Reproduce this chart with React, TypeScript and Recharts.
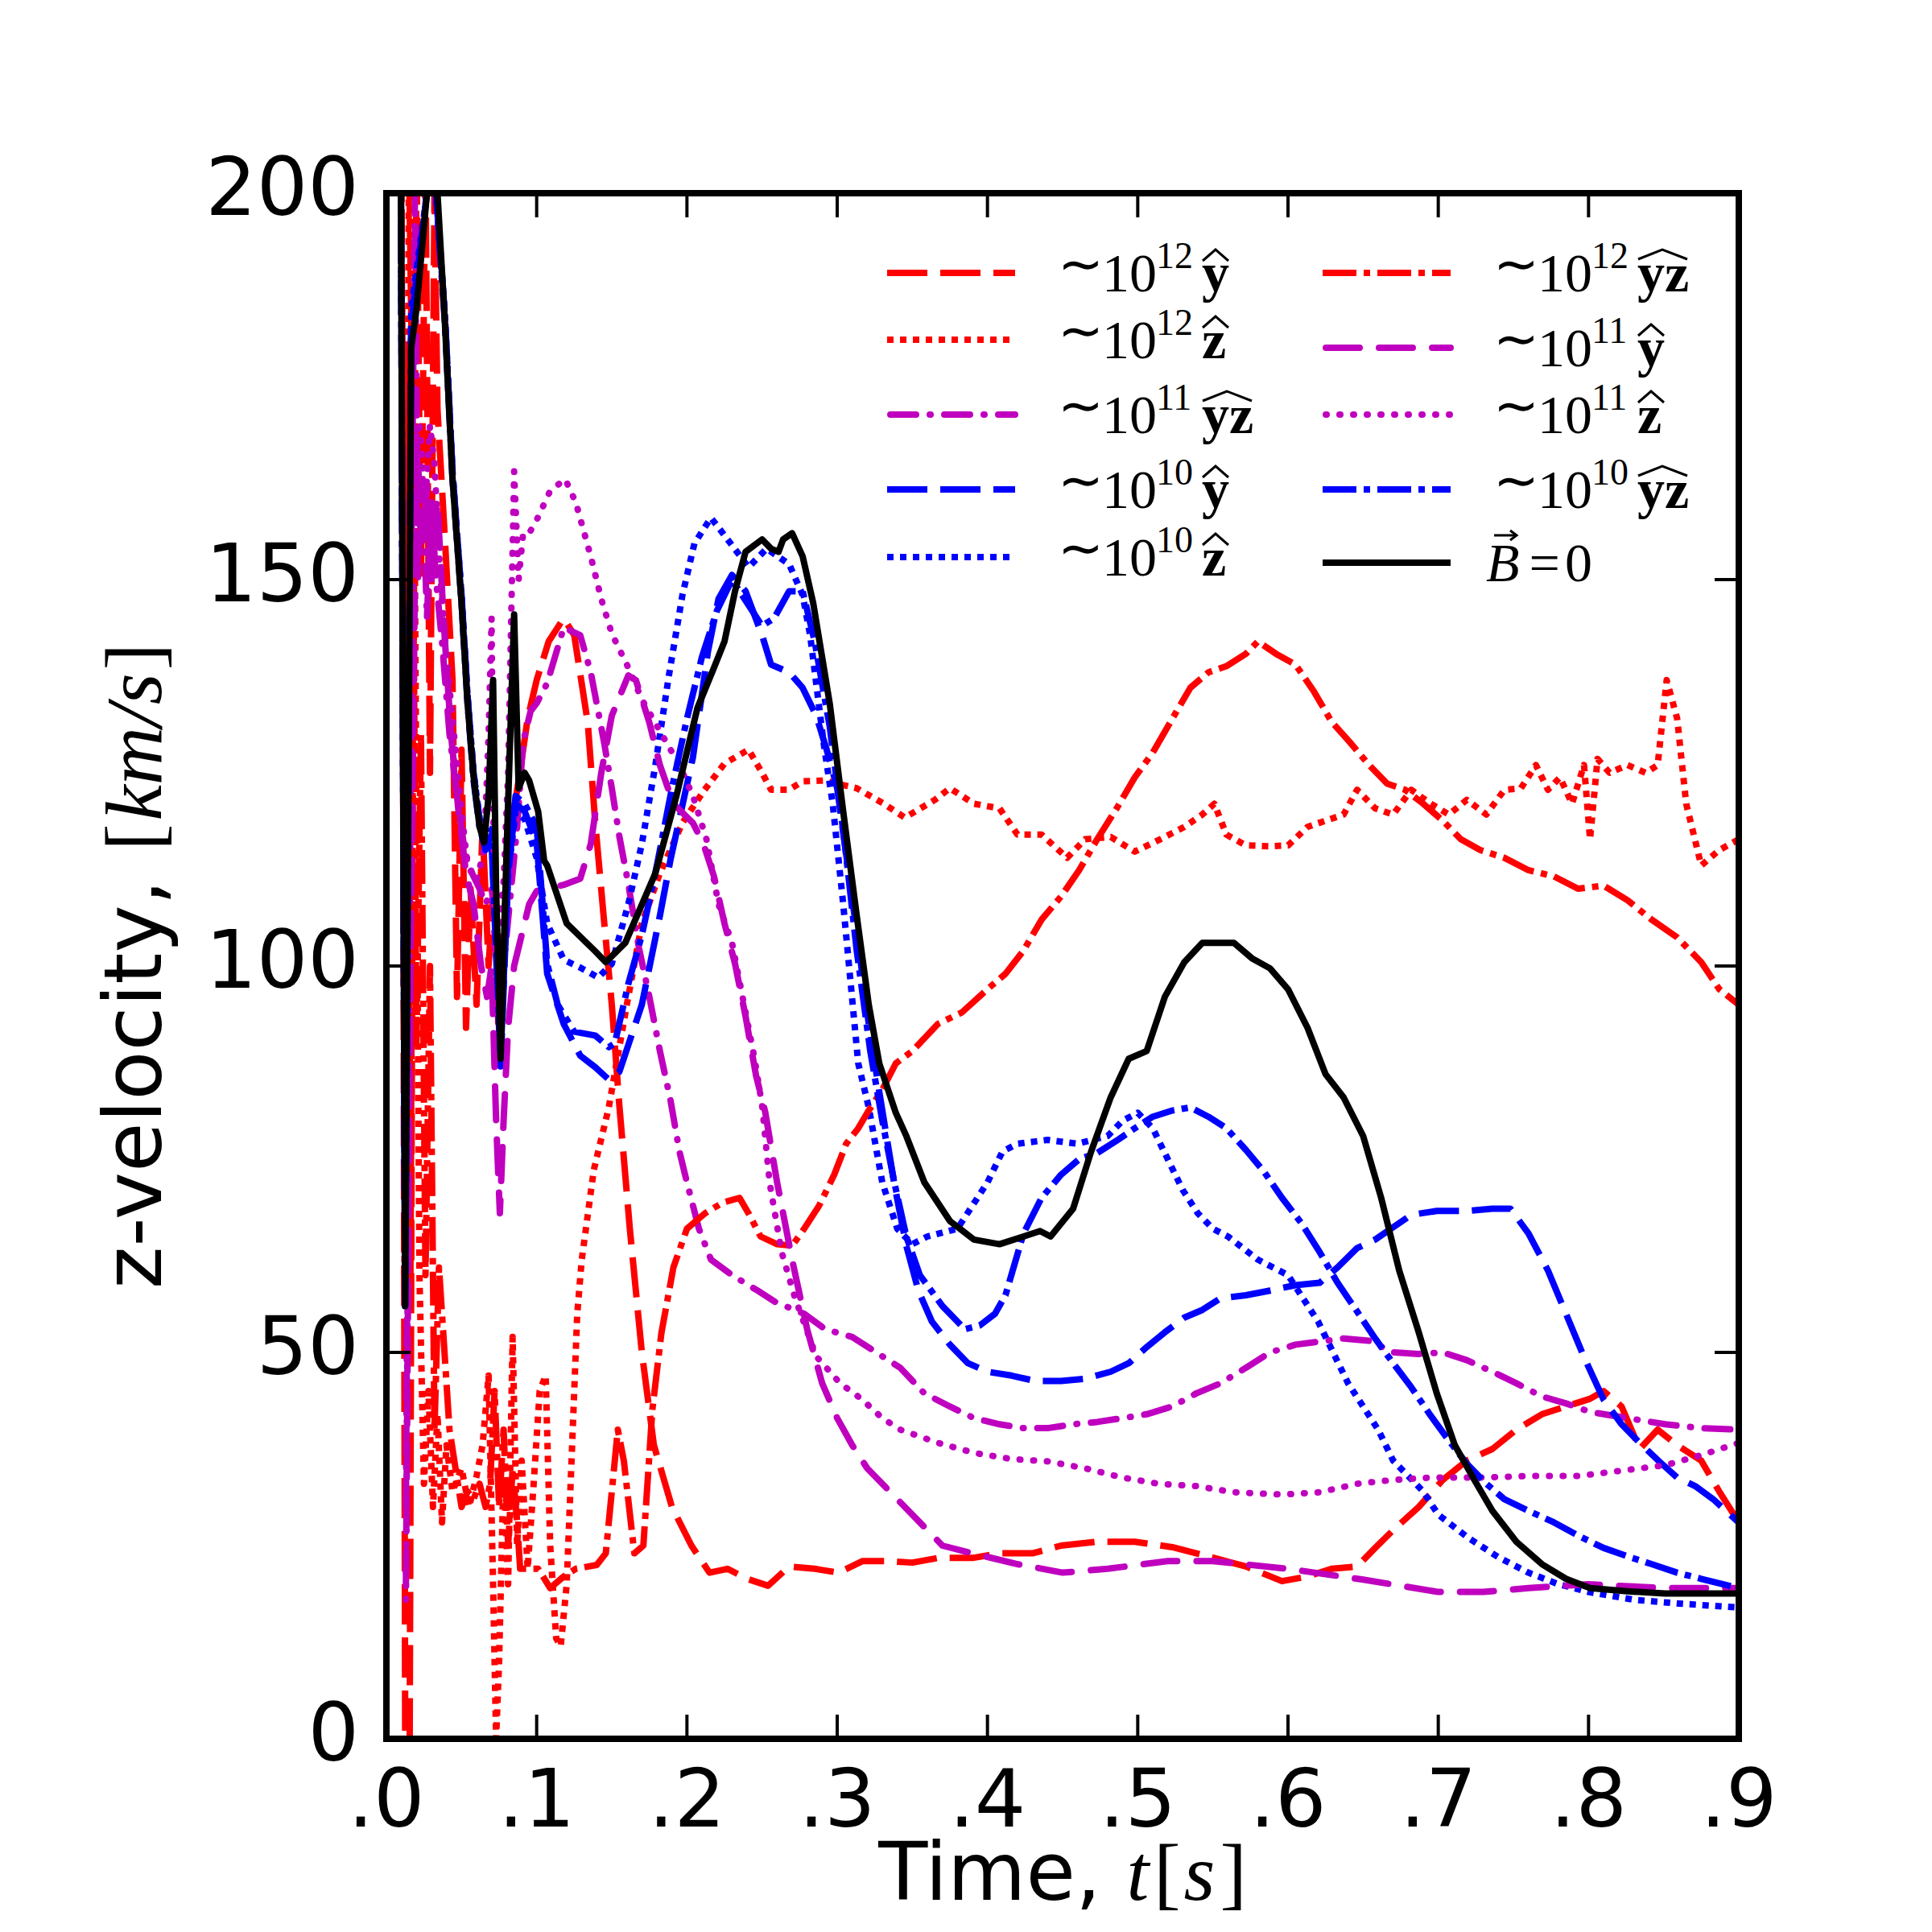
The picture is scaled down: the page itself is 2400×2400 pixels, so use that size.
import { Line, LineChart, XAxis, YAxis } from "recharts";

type Pt = [number, number];

const W = 2400;
const H = 2400;
const PLOT = { left: 480, right: 2160, top: 240, bottom: 2160 };

const xTicks = [0, 0.1, 0.2, 0.3, 0.4, 0.5, 0.6, 0.7, 0.8, 0.9];
const xTickLabels = [".0", ".1", ".2", ".3", ".4", ".5", ".6", ".7", ".8", ".9"];
const yTicks = [0, 50, 100, 150, 200];

// ~1e12, y direction (red dashed)
const r12y: Pt[] = [
  [0.0105, 185], [0.0125, 0], [0.0155, 0], [0.0175, 120], [0.02, 205], [0.023, 150], [0.026, 205], [0.029, 125],
  [0.032, 200], [0.034, 172], [0.039, 155], [0.044, 137], [0.047, 96], [0.05, 128], [0.053, 92], [0.056, 110],
  [0.06, 95], [0.064, 118], [0.068, 100], [0.072, 112], [0.075, 88], [0.079, 108], [0.083, 118], [0.088, 124],
  [0.094, 132], [0.1, 137], [0.108, 142], [0.118, 145], [0.125, 142.8], [0.134, 131.5], [0.139, 118.5],
  [0.145, 105.5], [0.15, 95], [0.155, 82], [0.162, 66], [0.17, 50], [0.178, 38], [0.19, 30], [0.203, 25],
  [0.215, 21.5], [0.227, 22], [0.24, 20.7], [0.254, 19.8], [0.268, 22.3], [0.285, 22], [0.301, 21.5], [0.317, 23],
  [0.334, 23], [0.35, 22.8], [0.367, 23.4], [0.39, 23.4], [0.408, 24], [0.43, 24], [0.449, 25], [0.473, 25.5],
  [0.498, 25.5], [0.523, 24.8], [0.547, 23.6], [0.572, 22.3], [0.596, 20.4], [0.613, 21], [0.629, 22],
  [0.646, 22.3], [0.658, 24.7], [0.67, 27], [0.687, 30], [0.703, 33.5], [0.719, 36], [0.736, 37.5], [0.752, 40],
  [0.769, 42], [0.785, 43], [0.801, 44], [0.81, 45], [0.822, 43], [0.834, 37.5], [0.846, 40], [0.859, 38],
  [0.875, 36], [0.887, 32], [0.9, 28],
];

// ~1e12, z direction (red dotted)
const r12z: Pt[] = [
  [0.012, 60], [0.015, 205], [0.019, 150], [0.022, 60], [0.025, 33], [0.028, 45], [0.031, 30], [0.034, 42],
  [0.037, 28], [0.04, 38], [0.044, 32], [0.05, 35], [0.055, 30], [0.06, 34], [0.064, 38], [0.068, 47], [0.071, 20],
  [0.073, 0], [0.075, 10], [0.078, 35], [0.081, 20], [0.084, 52], [0.087, 25], [0.09, 36], [0.094, 22], [0.098, 33],
  [0.102, 45], [0.106, 47], [0.109, 25], [0.113, 13], [0.116, 12], [0.12, 20], [0.124, 40], [0.127, 55], [0.13, 62],
  [0.138, 73.6], [0.148, 81.7], [0.16, 95], [0.17, 105.5], [0.182, 112], [0.197, 118.5], [0.211, 122.6],
  [0.225, 126.2], [0.241, 128], [0.25, 125], [0.256, 122.8], [0.268, 122.8], [0.277, 123.9], [0.291, 124],
  [0.313, 123], [0.331, 121], [0.345, 119.2], [0.365, 121.5], [0.375, 123], [0.391, 121], [0.408, 120.4],
  [0.42, 117], [0.436, 117], [0.453, 114], [0.465, 116.4], [0.482, 116.7], [0.498, 114.8], [0.515, 116.4],
  [0.531, 118], [0.543, 119.6], [0.551, 121], [0.559, 117], [0.572, 115.6], [0.588, 115.5], [0.6, 115.6],
  [0.613, 118], [0.625, 118.8], [0.637, 119.6], [0.646, 122.8], [0.658, 120.4], [0.67, 119.6], [0.682, 122.8],
  [0.695, 121], [0.707, 119.6], [0.719, 121.5], [0.732, 119.6], [0.744, 122.8], [0.755, 123], [0.765, 126],
  [0.773, 122.8], [0.781, 124.4], [0.789, 121], [0.797, 126], [0.801, 116.4], [0.806, 126.8], [0.814, 125],
  [0.826, 126], [0.838, 125], [0.846, 126], [0.852, 137], [0.859, 132], [0.865, 121], [0.875, 113], [0.887, 115],
  [0.9, 116.4],
];

// ~1e12, yz direction (red dash-dot)
const r12yz: Pt[] = [
  [0.01, 205], [0.012, 100], [0.014, 180], [0.016, 60], [0.018, 150], [0.02, 90], [0.023, 130], [0.026, 60],
  [0.029, 100], [0.032, 40], [0.035, 61], [0.038, 52], [0.042, 40], [0.046, 35], [0.05, 30], [0.054, 32],
  [0.058, 31], [0.062, 33], [0.066, 30], [0.069, 33], [0.072, 45], [0.075, 30], [0.078, 40], [0.081, 25],
  [0.084, 35], [0.087, 28], [0.089, 22], [0.095, 22], [0.101, 22], [0.109, 19.5], [0.118, 21], [0.126, 22],
  [0.14, 22.5], [0.146, 24], [0.154, 40], [0.158, 36], [0.165, 24], [0.171, 25], [0.177, 42.6], [0.183, 52.5],
  [0.191, 61], [0.2, 66], [0.212, 68], [0.224, 69.4], [0.235, 70], [0.241, 68], [0.249, 65], [0.26, 64],
  [0.27, 63.8], [0.278, 66], [0.288, 69], [0.298, 73], [0.306, 77], [0.314, 79], [0.32, 81], [0.33, 84],
  [0.339, 87.4], [0.35, 89], [0.367, 92.5], [0.383, 94], [0.4, 97], [0.412, 99], [0.424, 102], [0.436, 106],
  [0.449, 109], [0.461, 112.4], [0.473, 116.4], [0.486, 120.4], [0.498, 124.4], [0.51, 127.6], [0.523, 132],
  [0.535, 136], [0.547, 138], [0.559, 138.8], [0.572, 140.4], [0.58, 142], [0.592, 140.4], [0.605, 139],
  [0.617, 135.6], [0.629, 131.6], [0.641, 129], [0.654, 126], [0.666, 123.6], [0.678, 122.8], [0.69, 121],
  [0.703, 118.8], [0.715, 116.4], [0.728, 115], [0.744, 114], [0.76, 112.4], [0.777, 111.6], [0.793, 110],
  [0.81, 110.4], [0.826, 108.5], [0.842, 106], [0.859, 103.7], [0.875, 100.5], [0.887, 97], [0.9, 95],
];

// ~1e11, y direction (magenta dashed)
const m11y: Pt[] = [
  [0.013, 20], [0.016, 100], [0.019, 150], [0.021, 165], [0.024, 155], [0.027, 162], [0.03, 150], [0.034, 160],
  [0.038, 145], [0.043, 130], [0.048, 120], [0.053, 112], [0.058, 108], [0.063, 100], [0.067, 96], [0.07, 100],
  [0.073, 80], [0.0755, 68], [0.078, 80], [0.081, 92], [0.085, 100], [0.09, 104], [0.095, 108], [0.1, 109.7],
  [0.107, 110], [0.118, 110.5], [0.129, 111.3], [0.136, 115.8], [0.143, 125], [0.15, 132.4], [0.161, 137.6],
  [0.166, 137], [0.175, 131.5], [0.182, 126], [0.191, 121], [0.204, 118.5], [0.211, 115.8], [0.218, 111.6],
  [0.225, 105.5], [0.232, 100.3], [0.239, 93.5], [0.246, 85.8], [0.252, 81.2], [0.26, 72], [0.27, 62], [0.28, 53],
  [0.29, 46], [0.3, 41.5], [0.31, 38], [0.32, 35], [0.34, 31], [0.36, 27], [0.37, 25], [0.39, 24], [0.42, 22.6],
  [0.45, 21.5], [0.48, 22], [0.52, 23], [0.55, 23], [0.6, 22], [0.65, 20.6], [0.7, 19], [0.73, 19], [0.76, 19.5],
  [0.8, 20], [0.85, 19.5], [0.9, 19.5],
];

// ~1e11, z direction (magenta dotted)
const m11z: Pt[] = [
  [0.013, 18], [0.016, 120], [0.019, 168], [0.022, 170], [0.026, 160], [0.029, 170], [0.032, 165], [0.036, 150],
  [0.04, 140], [0.045, 130], [0.05, 120], [0.054, 113], [0.06, 111], [0.065, 115], [0.068, 130], [0.07, 145],
  [0.072, 101.5], [0.075, 105], [0.078, 111], [0.081, 125], [0.085, 164], [0.088, 150], [0.091, 156], [0.095, 156],
  [0.1, 157.7], [0.109, 161.5], [0.119, 163], [0.126, 160], [0.136, 153], [0.143, 147.5], [0.15, 143],
  [0.161, 138.6], [0.17, 134.5], [0.182, 130.4], [0.195, 126], [0.204, 122], [0.213, 116.4], [0.221, 108],
  [0.23, 103], [0.237, 96], [0.245, 88], [0.25, 82], [0.255, 72], [0.263, 63], [0.272, 57], [0.286, 49.5],
  [0.302, 46], [0.316, 44], [0.33, 41.5], [0.342, 40], [0.367, 38.3], [0.391, 37], [0.416, 36.2], [0.44, 35.9],
  [0.465, 35], [0.49, 33.8], [0.514, 33], [0.539, 32.7], [0.564, 31.9], [0.596, 31.6], [0.621, 31.9], [0.646, 33],
  [0.67, 33.5], [0.695, 33.8], [0.728, 33.8], [0.76, 34], [0.793, 34], [0.826, 34.8], [0.851, 35.4], [0.875, 36.7],
  [0.9, 38.3],
];

// ~1e11, yz direction (magenta dash-dot)
const m11yz: Pt[] = [
  [0.013, 30], [0.016, 140], [0.019, 200], [0.021, 150], [0.024, 163], [0.027, 145], [0.03, 160], [0.033, 150],
  [0.037, 142], [0.042, 130], [0.047, 122], [0.052, 115], [0.057, 112], [0.062, 110], [0.066, 108], [0.07, 110],
  [0.074, 104], [0.078, 100], [0.082, 108], [0.087, 118], [0.091, 129], [0.096, 133], [0.1, 134], [0.107, 136.6],
  [0.118, 143.8], [0.129, 142.8], [0.136, 138], [0.145, 128.8], [0.15, 123], [0.155, 116.8], [0.161, 110.6],
  [0.168, 102.4], [0.175, 96], [0.182, 89], [0.189, 82.7], [0.195, 76], [0.2, 72], [0.208, 66], [0.216, 62],
  [0.23, 60], [0.247, 58], [0.259, 56.5], [0.278, 55], [0.292, 53], [0.31, 52], [0.326, 50], [0.342, 48],
  [0.358, 44.7], [0.375, 43], [0.391, 41.5], [0.408, 40.7], [0.424, 40.2], [0.44, 40.2], [0.457, 40.7],
  [0.473, 41], [0.49, 41.5], [0.506, 42], [0.523, 43], [0.539, 44.7], [0.555, 46], [0.572, 48], [0.588, 50],
  [0.605, 51], [0.621, 51.4], [0.637, 51.8], [0.654, 51.5], [0.67, 50], [0.687, 49.8], [0.703, 50], [0.719, 49],
  [0.736, 47.5], [0.752, 46], [0.769, 44.3], [0.785, 43.4], [0.801, 42.3], [0.826, 41.5], [0.851, 40.7],
  [0.875, 40.2], [0.9, 40],
];

// ~1e10, y direction (blue dashed)
const b10y: Pt[] = [
  [0.0095, 210], [0.0125, 56], [0.0165, 183], [0.027, 200], [0.033, 200], [0.039, 184], [0.044, 164], [0.05, 148],
  [0.054, 135], [0.058, 125], [0.062, 119], [0.066, 116], [0.07, 116], [0.076, 87], [0.081, 112], [0.086, 121],
  [0.092, 120], [0.1, 116], [0.107, 99], [0.118, 92.5], [0.129, 88.4], [0.139, 86.9], [0.148, 85.3],
  [0.155, 86.3], [0.17, 95], [0.182, 106.5], [0.189, 113.7], [0.204, 127], [0.214, 140.7], [0.221, 147.5],
  [0.23, 150.6], [0.239, 148.5], [0.25, 142.8], [0.256, 139], [0.268, 138], [0.277, 136], [0.286, 132.4],
  [0.293, 128], [0.3, 123], [0.307, 113], [0.314, 103], [0.321, 92.5], [0.328, 83.7], [0.338, 71.8], [0.346, 63.8],
  [0.354, 58], [0.363, 54], [0.375, 51], [0.387, 48.6], [0.4, 47.5], [0.416, 47], [0.432, 46.3], [0.449, 46.3],
  [0.465, 46.6], [0.482, 47.5], [0.494, 48.6], [0.506, 50.7], [0.518, 52.6], [0.531, 54.5], [0.543, 55.5],
  [0.555, 57], [0.572, 57.4], [0.588, 58], [0.605, 58.7], [0.621, 59], [0.633, 61], [0.646, 63.5], [0.658, 64.6],
  [0.67, 66.2], [0.682, 67.8], [0.699, 68.3], [0.719, 68.3], [0.736, 68.6], [0.748, 68.6], [0.76, 65.4],
  [0.773, 60.6], [0.785, 55], [0.797, 49.4], [0.81, 43.9], [0.822, 40.7], [0.834, 38.3], [0.847, 35.9],
  [0.859, 33.8], [0.871, 32.7], [0.883, 31], [0.9, 28],
];

// ~1e10, z direction (blue dotted)
const b10z: Pt[] = [
  [0.0095, 210], [0.0125, 56], [0.0165, 185], [0.027, 200], [0.033, 200], [0.039, 184], [0.044, 164], [0.05, 148],
  [0.054, 135], [0.058, 125], [0.062, 119], [0.066, 116], [0.071, 118], [0.076, 90], [0.081, 112], [0.086, 120],
  [0.092, 119], [0.1, 114], [0.107, 105.5], [0.118, 100.8], [0.129, 99.8], [0.141, 98.5], [0.15, 100.3],
  [0.161, 108], [0.17, 115.8], [0.179, 126], [0.188, 137.6], [0.197, 148], [0.205, 154.7], [0.216, 158],
  [0.229, 154.7], [0.241, 151.6], [0.253, 154], [0.268, 152], [0.277, 148], [0.282, 142.8], [0.286, 136.6],
  [0.291, 128.8], [0.297, 121], [0.304, 108], [0.309, 97.7], [0.314, 87.4], [0.321, 81.7], [0.33, 72], [0.34, 66],
  [0.35, 64], [0.36, 65], [0.38, 66], [0.39, 69], [0.4, 72], [0.41, 76], [0.42, 77], [0.44, 77.5], [0.46, 77],
  [0.48, 78], [0.49, 80], [0.5, 81], [0.51, 79], [0.52, 75], [0.53, 71], [0.54, 68], [0.55, 66], [0.56, 65],
  [0.58, 62], [0.6, 60], [0.61, 57], [0.62, 54], [0.63, 50], [0.64, 46], [0.66, 40], [0.67, 36], [0.69, 32],
  [0.7, 29], [0.72, 26], [0.74, 23.5], [0.76, 21.5], [0.78, 20], [0.8, 19], [0.83, 18], [0.86, 17.5], [0.9, 17],
];

// ~1e10, yz direction (blue dash-dot)
const b10yz: Pt[] = [
  [0.0095, 210], [0.0125, 56], [0.0165, 183], [0.027, 200], [0.033, 200], [0.039, 183], [0.044, 163], [0.05, 147],
  [0.054, 134], [0.058, 124], [0.062, 118], [0.066, 115], [0.07, 117], [0.076, 88], [0.081, 113], [0.086, 122],
  [0.092, 121], [0.1, 118], [0.107, 100.3], [0.114, 95], [0.125, 91.5], [0.139, 91], [0.148, 89.5], [0.152, 90],
  [0.161, 97.7], [0.17, 104], [0.18, 113], [0.19, 123], [0.2, 132], [0.21, 140], [0.22, 146], [0.23, 150],
  [0.24, 147], [0.25, 144], [0.258, 145], [0.268, 148.5], [0.277, 148.5], [0.285, 142], [0.295, 131],
  [0.305, 116], [0.313, 102], [0.322, 89], [0.33, 80], [0.338, 72], [0.346, 65], [0.355, 60], [0.37, 56],
  [0.385, 53], [0.395, 53.5], [0.405, 55], [0.412, 57.4], [0.424, 65.4], [0.436, 70], [0.449, 73], [0.461, 75],
  [0.473, 75.8], [0.486, 77.4], [0.498, 79], [0.51, 80.5], [0.523, 81.3], [0.535, 81.7], [0.547, 80.5],
  [0.559, 79], [0.572, 76.2], [0.584, 73.4], [0.596, 70], [0.609, 66.7], [0.621, 63], [0.633, 59], [0.646, 55.3],
  [0.658, 51.8], [0.67, 48.6], [0.682, 45.5], [0.695, 41.8], [0.707, 38.6], [0.719, 35.6], [0.732, 33],
  [0.744, 31], [0.76, 29.5], [0.777, 28], [0.793, 26.3], [0.81, 24.7], [0.826, 23.6], [0.842, 22.6],
  [0.859, 21.5], [0.875, 20.7], [0.9, 19.5],
];

// no magnetic field (black solid)
const b0: Pt[] = [
  [0.0095, 210], [0.0125, 56], [0.0165, 180], [0.02, 185], [0.027, 200], [0.031, 203], [0.034, 200], [0.039, 183],
  [0.044, 163], [0.05, 147], [0.054, 134], [0.058, 124.5], [0.062, 118], [0.065, 116], [0.068, 122], [0.071, 137],
  [0.073, 110], [0.076, 88], [0.08, 115], [0.085, 145.5], [0.088, 123], [0.092, 125], [0.095, 124], [0.101, 120],
  [0.105, 113.6], [0.107, 113], [0.12, 105.5], [0.139, 101.9], [0.146, 100.5], [0.159, 103], [0.179, 112],
  [0.193, 122], [0.207, 133.4], [0.218, 138.6], [0.225, 142], [0.232, 148.5], [0.239, 153.6], [0.25, 155.2],
  [0.256, 154], [0.261, 153.6], [0.264, 155.2], [0.27, 156], [0.277, 153], [0.284, 147], [0.295, 134],
  [0.304, 120], [0.313, 106.5], [0.321, 95], [0.328, 87.4], [0.339, 81], [0.346, 78], [0.358, 72], [0.375, 67],
  [0.391, 64.6], [0.408, 64], [0.424, 65], [0.435, 65.7], [0.442, 65], [0.457, 68.6], [0.469, 76], [0.482, 83],
  [0.494, 88], [0.506, 89], [0.518, 96], [0.531, 100.5], [0.543, 103], [0.564, 103], [0.576, 101], [0.588, 99.7],
  [0.6, 97], [0.613, 92], [0.625, 86], [0.637, 83], [0.65, 78], [0.662, 70], [0.674, 60.6], [0.687, 52.6],
  [0.699, 44.7], [0.711, 38], [0.724, 33.5], [0.736, 29.5], [0.752, 25.5], [0.769, 22.6], [0.785, 20.7],
  [0.801, 19.5], [0.826, 19.1], [0.851, 18.8], [0.875, 18.8], [0.9, 18.8],
];

const RED = "#ff0000";
const MAG = "#bf00bf";
const BLUE = "#0000ff";

const DASHED = "50 16";
const DOTTED = "8 8";
const DASHDOT = "42 9 8 9";
const M_DASHED = "42 24";
const M_DOTTED = "1 16";
const M_DASHDOT = "32 17 1 17";

type Series = {
  id: string;
  pts: Pt[];
  color: string;
  dash?: string;
  cap: "butt" | "round";
  exp?: string;
  vec?: string;
};

// plot order (matches the legend's column-first fill)
const SERIES: Series[] = [
  { id: "r12y", pts: r12y, color: RED, dash: DASHED, cap: "butt", exp: "12", vec: "y" },
  { id: "r12z", pts: r12z, color: RED, dash: DOTTED, cap: "butt", exp: "12", vec: "z" },
  { id: "m11yz", pts: m11yz, color: MAG, dash: M_DASHDOT, cap: "round", exp: "11", vec: "yz" },
  { id: "b10y", pts: b10y, color: BLUE, dash: DASHED, cap: "butt", exp: "10", vec: "y" },
  { id: "b10z", pts: b10z, color: BLUE, dash: DOTTED, cap: "butt", exp: "10", vec: "z" },
  { id: "r12yz", pts: r12yz, color: RED, dash: DASHDOT, cap: "butt", exp: "12", vec: "yz" },
  { id: "m11y", pts: m11y, color: MAG, dash: M_DASHED, cap: "round", exp: "11", vec: "y" },
  { id: "m11z", pts: m11z, color: MAG, dash: M_DOTTED, cap: "round", exp: "11", vec: "z" },
  { id: "b10yz", pts: b10yz, color: BLUE, dash: DASHDOT, cap: "butt", exp: "10", vec: "yz" },
  { id: "b0", pts: b0, color: "#000000", cap: "butt" },
];

const rows = (pts: Pt[]) => pts.map(([t, v]) => ({ t, v }));

const SANS = "DejaVu Sans";
const SERIF = "Liberation Serif";

function XTick(props: any) {
  const { x, payload } = props;
  const i = xTicks.indexOf(payload.value);
  const label = i >= 0 ? xTickLabels[i] : String(payload.value);
  return (
    <g>
      <line x1={x} x2={x} y1={PLOT.bottom} y2={PLOT.bottom - 30} stroke="#000" strokeWidth={4} />
      <line x1={x} x2={x} y1={PLOT.top} y2={PLOT.top + 30} stroke="#000" strokeWidth={4} />
      <text x={x} y={PLOT.bottom + 109} textAnchor="middle" fontFamily={SANS} fontSize={100} fill="#000">
        {label}
      </text>
    </g>
  );
}

function YTick(props: any) {
  const { y, payload } = props;
  return (
    <g>
      <line x1={PLOT.left} x2={PLOT.left + 30} y1={y} y2={y} stroke="#000" strokeWidth={4} />
      <line x1={PLOT.right} x2={PLOT.right - 30} y1={y} y2={y} stroke="#000" strokeWidth={4} />
      <text x={PLOT.left - 34} y={y + 27} textAnchor="end" fontFamily={SANS} fontSize={100} fill="#000">
        {payload.value}
      </text>
    </g>
  );
}

const LEG_COLS = [
  { lineX: 1102, textX: 1314, ids: ["r12y", "r12z", "m11yz", "b10y", "b10z"], ys: [339, 422, 515, 608, 692] },
  { lineX: 1643, textX: 1855, ids: ["r12yz", "m11y", "m11z", "b10yz", "b0"], ys: [339, 432, 515, 608, 699] },
];

function LegendLabel({ x, y, s }: { x: number; y: number; s: Series }) {
  if (!s.exp) {
    const bx = x - 9;
    return (
      <g>
        <text x={bx} y={y + 23} fontFamily={SERIF} fontSize={68} fill="#000">
          <tspan fontStyle="italic">B</tspan>
          <tspan dx={12}>=</tspan>
          <tspan dx={6}>0</tspan>
        </text>
        <path d={`M${bx + 10} ${y - 34} L${bx + 38} ${y - 34}`} stroke="#000" strokeWidth={3} fill="none" />
        <path d={`M${bx + 30} ${y - 40} L${bx + 38} ${y - 34} L${bx + 30} ${y - 28}`} stroke="#000" strokeWidth={3} fill="none" />
      </g>
    );
  }
  const vx = x + 179;
  const wide = s.vec === "yz";
  const hat = wide
    ? `M${vx + 1} ${y - 17} L${vx + 31} ${y - 29} L${vx + 62} ${y - 17}`
    : `M${vx + 1} ${y - 15} L${vx + 17} ${y - 29} L${vx + 33} ${y - 15}`;
  return (
    <g>
      <text x={x} y={y + 23} fontFamily={SERIF} fontSize={68} fill="#000">
        <tspan x={x} y={y + 12}>∼</tspan>
        <tspan x={x + 55} y={y + 23}>10</tspan>
        <tspan x={x + 122} y={y - 6} fontSize={46}>{s.exp}</tspan>
        <tspan x={vx} y={y + 23} fontWeight="bold">{s.vec}</tspan>
      </text>
      <path d={hat} stroke="#000" strokeWidth={3} fill="none" />
    </g>
  );
}

function Overlay() {
  const byId = Object.fromEntries(SERIES.map((s) => [s.id, s]));
  return (
    <svg width={W} height={H} style={{ position: "absolute", left: 0, top: 0, pointerEvents: "none" }}>
      <rect
        x={PLOT.left}
        y={PLOT.top}
        width={PLOT.right - PLOT.left}
        height={PLOT.bottom - PLOT.top}
        fill="none"
        stroke="#000"
        strokeWidth={8}
      />
      {LEG_COLS.map((col) =>
        col.ids.map((id, r) => {
          const s = byId[id];
          const y = col.ys[r];
          return (
            <g key={id}>
              <line
                x1={col.lineX + (s.cap === "round" ? 4 : 0)}
                x2={col.lineX + 159}
                y1={y}
                y2={y}
                stroke={s.color}
                strokeWidth={8}
                strokeDasharray={s.dash}
                strokeLinecap={s.cap}
              />
              <LegendLabel x={col.textX} y={y} s={s} />
            </g>
          );
        })
      )}
      <text x={1320} y={2360} textAnchor="middle" fontFamily={SANS} fontSize={100} fill="#000">
        Time,{" "}
        <tspan fontFamily={SERIF} fontStyle="italic">t</tspan>
        <tspan fontFamily={SERIF} dx={6}>[</tspan>
        <tspan fontFamily={SERIF} fontStyle="italic" dx={4}>s</tspan>
        <tspan fontFamily={SERIF} dx={6}>]</tspan>
      </text>
      <text
        transform="translate(200,1200) rotate(-90)"
        textAnchor="middle"
        fontFamily={SANS}
        fontSize={100}
        fill="#000"
      >
        z-velocity,{" "}
        <tspan fontFamily={SERIF} dx={4}>[</tspan>
        <tspan fontFamily={SERIF} fontStyle="italic" dx={4}>km/s</tspan>
        <tspan fontFamily={SERIF} dx={4}>]</tspan>
      </text>
    </svg>
  );
}

export default function App() {
  return (
    <div style={{ position: "absolute", left: 0, top: 0, width: W, height: H, background: "#fff" }}>
      <LineChart width={W} height={H} margin={{ top: 240, right: 240, bottom: 140, left: 360 }}>
        <XAxis
          dataKey="t"
          type="number"
          domain={[0, 0.9]}
          ticks={xTicks}
          interval={0}
          allowDataOverflow
          tick={<XTick />}
          tickLine={false}
          axisLine={false}
          height={100}
        />
        <YAxis
          type="number"
          domain={[0, 200]}
          ticks={yTicks}
          interval={0}
          allowDataOverflow
          tick={<YTick />}
          tickLine={false}
          axisLine={false}
          width={120}
        />
        {SERIES.map((s) => (
          <Line
            key={s.id}
            data={rows(s.pts)}
            dataKey="v"
            type="linear"
            stroke={s.color}
            strokeWidth={8}
            strokeDasharray={s.dash}
            strokeLinecap={s.cap}
            strokeLinejoin="round"
            dot={false}
            activeDot={false}
            isAnimationActive={false}
          />
        ))}
      </LineChart>
      <Overlay />
    </div>
  );
}
